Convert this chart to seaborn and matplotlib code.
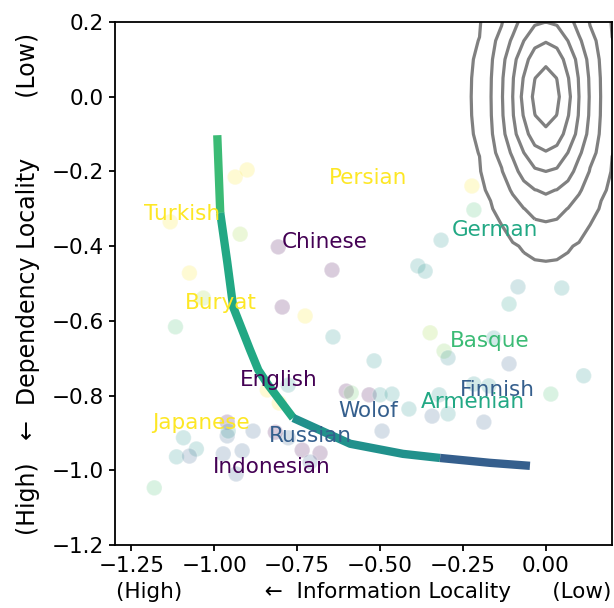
# Locality scatter with frontier curve

import numpy as np
import pandas as pd
import matplotlib
matplotlib.use("Agg")
import matplotlib.pyplot as plt
import seaborn as sns

# Data

# languages: information locality (x), dependency locality (y), colour value (viridis 0..1)
point_x = [-0.937, -0.901, -1.133, -0.922, -0.807, -0.645, -1.075, -1.033, -0.795, -0.726,
           -1.117, -0.642, -0.518, -0.223, -0.217, -0.316, -0.386, -0.364, -0.084, 0.048,
           -0.111, -0.349, -0.157, -0.307, -0.295, -0.111, 0.114, 0.015, -0.602, -0.587,
           -0.533, -0.500, -0.464, -0.322, -0.217, -0.172, -0.413, -0.343, -0.295, -0.187,
           -0.494, -0.840, -0.777, -0.804, -0.961, -0.961, -0.958, -0.883, -1.093, -1.054,
           -1.114, -1.075, -0.973, -0.916, -0.934, -1.181, -0.777, -0.735, -0.681, -0.711,
           -0.816]
point_y = [-0.215, -0.196, -0.335, -0.368, -0.402, -0.464, -0.472, -0.539, -0.563, -0.587,
           -0.616, -0.643, -0.707, -0.239, -0.303, -0.384, -0.453, -0.467, -0.509, -0.512,
           -0.555, -0.632, -0.646, -0.681, -0.699, -0.715, -0.747, -0.796, -0.788, -0.793,
           -0.798, -0.798, -0.796, -0.798, -0.769, -0.774, -0.836, -0.855, -0.849, -0.871,
           -0.895, -0.785, -0.772, -0.820, -0.871, -0.908, -0.895, -0.895, -0.913, -0.943,
           -0.964, -0.962, -0.956, -0.948, -1.010, -1.047, -0.913, -0.946, -0.954, -0.978,
           -0.898]
point_val = [1.0, 1.0, 1.0, 0.85, 0.0, 0.0, 1.0, 0.85, 0.0, 1.0,
             0.7, 0.5, 0.5, 1.0, 0.7, 0.5, 0.5, 0.5, 0.45, 0.5,
             0.55, 0.85, 0.5, 0.8, 0.45, 0.3, 0.5, 0.7, 0.0, 0.75,
             0.0, 0.5, 0.5, 0.5, 0.5, 0.5, 0.5, 0.3, 0.5, 0.3,
             0.3, 1.0, 0.5, 1.0, 0.0, 0.3, 0.5, 0.3, 0.5, 0.5,
             0.5, 0.3, 0.3, 0.3, 0.3, 0.7, 0.3, 0.0, 0.0, 0.3,
             0.0]

label_names = ["Persian", "Turkish", "Chinese", "German", "Buryat", "Basque", "English",
               "Finnish", "Armenian", "Wolof", "Japanese", "Russian", "Indonesian"]
label_x = [-0.536, -1.096, -0.666, -0.154, -0.979, -0.169, -0.807,
           -0.145, -0.220, -0.536, -1.039, -0.711, -0.828]
label_y = [-0.218, -0.314, -0.389, -0.357, -0.552, -0.654, -0.758,
           -0.785, -0.817, -0.841, -0.873, -0.908, -0.991]
label_val = [1.0, 1.0, 0.0, 0.6, 1.0, 0.68, 0.0,
             0.3, 0.6, 0.3, 1.0, 0.3, 0.0]

# frontier curve, split in coloured pieces
curve_x = [-0.991, -0.982,
           -0.982, -0.961, -0.943, -0.892, -0.867, -0.837, -0.762,
           -0.762, -0.590, -0.431, -0.319,
           -0.319, -0.169, -0.048]
curve_y = [-0.103, -0.311,
           -0.311, -0.442, -0.563, -0.678, -0.732, -0.772, -0.860,
           -0.860, -0.929, -0.956, -0.967,
           -0.967, -0.980, -0.988]
curve_part = [0, 0,
              1, 1, 1, 1, 1, 1, 1,
              2, 2, 2, 2,
              3, 3, 3]
part_val = [0.68, 0.6, 0.5, 0.3]

# baseline density (contours in the upper right)
kde_center = [0.0, 0.0]
kde_scale = [0.05, 0.1]
ring_radius = [0.82, 1.45, 2.0, 2.57, 3.26, 4.3]

# Plot

fs = 15.5
plt.rcParams["font.size"] = fs
plt.rcParams["axes.linewidth"] = 1.3
plt.rcParams["xtick.major.width"] = 1.3
plt.rcParams["ytick.major.width"] = 1.3
plt.rcParams["xtick.major.size"] = 4.5
plt.rcParams["ytick.major.size"] = 4.5

cmap = plt.get_cmap("viridis")

fig = plt.figure(figsize=(6.14, 6.08), dpi=100)
ax = fig.add_axes([0.187, 0.1036, 0.81, 0.8602])

# density contours
gx = np.linspace(-0.5, 0.5, 31)
gy = np.linspace(-0.7, 0.7, 29)
X, Y = np.meshgrid(gx, gy)
Z = np.exp(-0.5 * (((X - kde_center[0]) / kde_scale[0]) ** 2 + ((Y - kde_center[1]) / kde_scale[1]) ** 2))
levels = sorted(np.exp(-0.5 * np.array(ring_radius) ** 2))
ax.contour(X, Y, Z, levels=levels, colors="#808080", linewidths=2.3, zorder=1)

# languages
sns.scatterplot(x=point_x, y=point_y, hue=point_val, palette="viridis", hue_norm=(0, 1),
                s=125, alpha=0.2, edgecolor="white", linewidth=1, legend=False, ax=ax, zorder=2)

# frontier
curve = pd.DataFrame({"x": curve_x, "y": curve_y, "part": curve_part})
pal = {i: cmap(v) for i, v in enumerate(part_val)}
sns.lineplot(data=curve, x="x", y="y", hue="part", palette=pal, sort=False, estimator=None,
             lw=6, solid_capstyle="butt", legend=False, ax=ax, zorder=2.5)

for name, lx, ly, v in zip(label_names, label_x, label_y, label_val):
    ax.text(lx, ly, name, color=cmap(v), ha="center", va="center", fontsize=fs, zorder=3)

ax.set_xlim(-1.3, 0.2)
ax.set_ylim(-1.2, 0.2)
ax.set_xticks([-1.25, -1.0, -0.75, -0.5, -0.25, 0.0])
ax.set_yticks([-1.2, -1.0, -0.8, -0.6, -0.4, -0.2, 0.0, 0.2])

ax.set_xlabel("(High)" + " " * 12 + "\u2190  Information Locality" + " " * 6 + "(Low)")
ax.set_ylabel("(High)" + " " * 3 + "\u2190  Dependency Locality" + " " * 8 + "(Low)",
              fontsize=17, labelpad=8)

plt.savefig("out.png", dpi=100)
